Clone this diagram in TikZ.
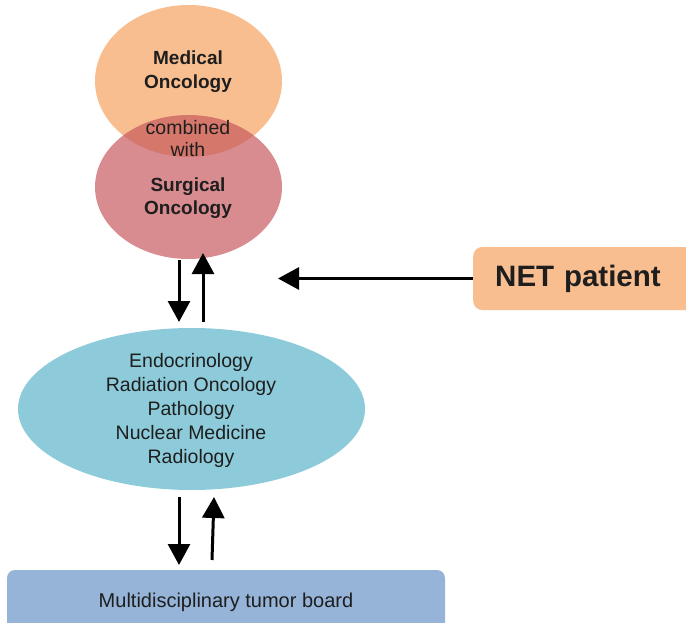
\documentclass[tikz,border=0pt]{standalone}
\usepackage{fontspec}
\setmainfont{Liberation Sans}
\usetikzlibrary{arrows.meta,shapes.geometric}
\definecolor{orangeC}{RGB}{249,190,144}
\definecolor{pinkC}{RGB}{198,86,90}
\definecolor{blueC}{RGB}{141,203,218}
\definecolor{boardC}{RGB}{149,180,216}
\definecolor{txtC}{RGB}{30,30,30}
\tikzset{
  ell/.style={ellipse, inner sep=0pt, draw=none},
  lbl/.style={align=center, text=txtC, inner sep=0pt, font=\fontsize{19.5}{23.8}\selectfont},
  blbl/.style={lbl, font=\fontsize{19}{23.5}\selectfont\bfseries},
  arr/.style={line width=3pt, -{Triangle[length=21pt,width=22pt]}, black}
}
\begin{document}
\begin{tikzpicture}[x=1pt,y=-1pt]
\useasboundingbox (0,0) rectangle (686,623);
\clip (0,0) rectangle (686,623);
% ellipses
\node[ell, fill=orangeC, minimum width=187pt, minimum height=152pt] (med) at (188.5,81) {};
\node[ell, fill=pinkC, fill opacity=0.68, minimum width=187pt, minimum height=144pt] (surg) at (188.5,187) {};
\node[blbl] (medt) at (188,71.5) {Medical\\Oncology};
\node[lbl, font=\fontsize{19.5}{22}\selectfont] (comb) at (188,139) {combined\\with};
\node[blbl] (surgt) at (188,198) {Surgical\\Oncology};
\node[ell, fill=blueC, minimum width=347pt, minimum height=162pt] (spec) at (191.5,409) {};
\node[lbl] (spect) at (191,410.5) {Endocrinology\\Radiation Oncology\\Pathology\\Nuclear Medicine\\Radiology};
% boxes
\node[anchor=west, fill=orangeC, rounded corners=9pt, minimum height=63pt, text width=205pt,
      inner xsep=22pt, align=left, text=txtC, font=\fontsize{29.5}{32}\selectfont\bfseries] (net) at (473,278.5) {NET patient};
\node[fill=boardC, rounded corners=8pt, minimum width=438pt, minimum height=64pt, text=txtC,
      font=\fontsize{20}{23}\selectfont] (board) at (226,602) {\raisebox{2pt}{Multidisciplinary tumor board}};
% arrow end coordinates
\coordinate (d1s) at (179,260); \coordinate (d1e) at (179,322);
\coordinate (u1s) at (203,322); \coordinate (u1e) at (203,253);
\coordinate (ns) at (net.west); \coordinate (ne) at (278,278.5);
\coordinate (d2s) at (179,497); \coordinate (d2e) at (179,565);
\coordinate (u2s) at (212,560); \coordinate (u2e) at (214,497);
\draw[arr] (d1s) -- (d1e);
\draw[arr] (u1s) -- (u1e);
\draw[arr] (ns) -- (ne);
\draw[arr] (d2s) -- (d2e);
\draw[arr] (u2s) -- (u2e);
\end{tikzpicture}
\end{document}
